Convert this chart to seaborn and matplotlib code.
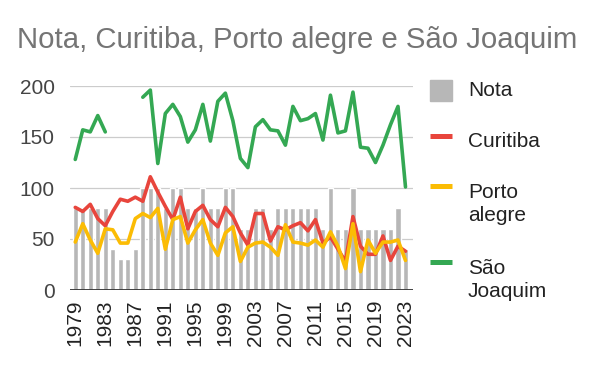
import numpy as np
import pandas as pd
import matplotlib
matplotlib.use("Agg")
import matplotlib.pyplot as plt
from matplotlib.patches import Rectangle
from matplotlib.lines import Line2D
import seaborn as sns

years = list(range(1979, 2024))
nota = [80, 80, 80, 80, 80, 40, 30, 30, 40, 100,
        100, 100, 80, 100, 100, 80, 80, 100, 80, 80,
        100, 100, 60, 60, 80, 80, 60, 80, 80, 80,
        80, 80, 80, 60, 100, 60, 60, 100, 60, 60,
        60, 60, 60, 80, 40]
curitiba = [81, 77, 84, 70, 63, 77, 89, 87, 91, 87,
            111, 96, 82, 69, 91, 60, 77, 83, 69, 62,
            81, 72, 56, 44, 75, 75, 48, 62, 59, 63,
            66, 58, 69, 46, 52, 40, 28, 72, 43, 35,
            35, 53, 29, 43, 38]
porto_alegre = [47, 65, 49, 36, 60, 59, 46, 46, 70, 75,
                71, 80, 40, 69, 72, 46, 59, 69, 46, 34,
                56, 62, 28, 42, 46, 47, 42, 34, 64, 47,
                46, 44, 49, 42, 57, 43, 21, 65, 18, 49,
                36, 47, 47, 49, 29]
sao_joaquim = [128, 157, 155, 171, 155, np.nan, np.nan, np.nan, np.nan, 189,
               196, 124, 173, 182, 170, 145, 157, 182, 146, 185,
               193, 166, 129, 120, 160, 167, 157, 156, 142, 180,
               166, 168, 173, 147, 191, 154, 156, 194, 140, 139,
               125, 142, 162, 180, 101]

title = "Nota, Curitiba, Porto alegre e São Joaquim"
c_bar = "#b7b7b7"
c_red = "#e8453c"
c_yel = "#fbbc04"
c_grn = "#34a853"

sns.set_style("white")
plt.rcParams["font.family"] = ["Liberation Sans", "DejaVu Sans"]

df = pd.DataFrame({"idx": np.arange(len(years)), "Ano": years, "Nota": nota,
                   "Curitiba": curitiba, "Porto": porto_alegre, "SJ": sao_joaquim})
sj = df[["idx", "SJ"]].copy()
sj["seg"] = sj["SJ"].isna().cumsum()
sj = sj.dropna()

W, H = 600, 371
fig = plt.figure(figsize=(6, 3.71), dpi=100)
ax = fig.add_axes([70 / W, 1 - 290 / H, 343 / W, 204 / H])

sns.barplot(data=df, x="idx", y="Nota", color=c_bar, saturation=1, width=0.68, ax=ax)
for col, c in [("Curitiba", c_red), ("Porto", c_yel)]:
    sns.lineplot(data=df, x="idx", y=col, color=c, lw=2.6, ax=ax, legend=False)
sns.lineplot(data=sj, x="idx", y="SJ", units="seg", estimator=None, color=c_grn,
             lw=2.6, ax=ax, legend=False)
for ln in ax.lines:
    ln.set_clip_on(False)

ax.set_xlim(-0.7, 45.0)
ax.set_ylim(0, 200)
ax.set_yticks([0, 50, 100, 150, 200])
ax.set_xticks(range(0, len(years), 4))
ax.set_xticklabels([str(y) for y in years[::4]], rotation=90)
ax.set_xlabel("")
ax.set_ylabel("")
ax.grid(axis="y", color="#cccccc", lw=0.9)
ax.set_axisbelow(True)
ax.axhline(0, color="#333333", lw=1.3, zorder=5)
for s in ax.spines.values():
    s.set_visible(False)
ax.tick_params(axis="y", length=0, pad=11, labelsize=15, labelcolor="#444444")
ax.tick_params(axis="x", length=0, pad=7, labelsize=15, labelcolor="#222222")

fx = lambda px: px / W
fy = lambda py: 1 - py / H

fig.text(fx(17), fy(40), title, va="center", ha="left", fontsize=21.2, color="#757575")

fig.add_artist(Rectangle((fx(430), fy(101)), 22 / W, 21 / H, transform=fig.transFigure,
                         color=c_bar))
for yy, c in [(136, c_red), (186, c_yel), (262, c_grn)]:
    fig.add_artist(Line2D([fx(430), fx(452)], [fy(yy), fy(yy)], lw=3.6, color=c,
                          solid_capstyle="butt", transform=fig.transFigure))
fig.text(fx(468), fy(91), "Nota", va="center", fontsize=15, color="#222222")
fig.text(fx(468), fy(141), "Curitiba", va="center", fontsize=15, color="#222222")
fig.text(fx(468), fy(204), "Porto\nalegre", va="center", fontsize=15, color="#222222",
         linespacing=1.3)
fig.text(fx(468), fy(280), "São\nJoaquim", va="center", fontsize=15, color="#222222",
         linespacing=1.3)

fig.savefig("out.png", dpi=100)
